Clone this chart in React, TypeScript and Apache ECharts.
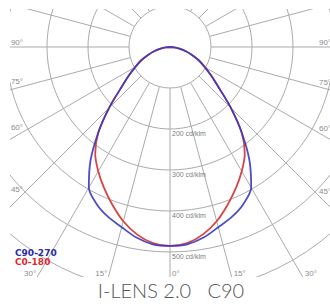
import React, { useEffect, useRef } from "react";
import * as echarts from "echarts";

// Photometric data (cd/klm) every 5° from 0° (nadir) to 90°
const angleSteps = [0, 5, 10, 15, 20, 25, 30, 35, 40, 45, 50, 55, 60, 65, 70, 75, 80, 85, 90];
const c90_270 = [485, 483, 472, 455, 441, 423, 396, 338, 272, 210, 157, 124, 98, 78, 57, 40, 23, 10, 0];
const c0_180 = [485, 480, 464, 440, 410, 380, 350, 318, 272, 210, 157, 124, 98, 78, 57, 40, 23, 10, 0];
const ringLabels = [200, 300, 400, 500];
const sideLabelAngles = [90, 75, 60, 45];
const bottomLabelAngles = [30, 15, 0];
const rayAngles = [-165, -150, -135, -120, -105, -90, -75, -60, -45, -30, -15, 0, 15, 30, 45, 60, 75, 90, 105, 120, 135, 150, 165, 180];
const legendNames = ["C90-270", "C0-180"];
const titleText = "I-LENS 2.0   C90";

// layout
const W = 330;
const H = 304;
const CX = 170;
const CY = 47;
const PX = 0.41; // px per cd/klm
const RMAX = 800;
const FRAME = { left: 10, top: 9, right: 330, bottom: 277 };

const BLUE = "#3a3ac0";
const RED = "#d84444";
const GRID = "#ababab";

function curve(values: number[]) {
  const pts: number[][] = [];
  for (let i = angleSteps.length - 1; i >= 0; i--) pts.push([values[i], -angleSteps[i]]);
  for (let i = 1; i < angleSteps.length; i++) pts.push([values[i], angleSteps[i]]);
  return pts;
}

export default function App() {
  const ref = useRef<HTMLDivElement>(null);
  useEffect(() => {
    document.body.style.margin = "0";
    const chart = echarts.init(ref.current!, null, { renderer: "svg" });
    const rad = (d: number) => (d * Math.PI) / 180;
    const labelStyle = { fill: "#8c8c8c", fontSize: 8, fontFamily: "Liberation Sans, Arial, sans-serif" };
    const graphics: any[] = [
      { type: "rect", z: 50, shape: { x: 0, y: 0, width: W, height: FRAME.top }, style: { fill: "#fff" } },
      { type: "rect", z: 50, shape: { x: 0, y: 0, width: FRAME.left, height: H }, style: { fill: "#fff" } },
      { type: "rect", z: 50, shape: { x: 0, y: FRAME.bottom, width: W, height: H - FRAME.bottom }, style: { fill: "#fff" } },
    ];
    sideLabelAngles.forEach((a) => {
      const cot = Math.cos(rad(a)) / Math.sin(rad(a));
      const xl = FRAME.left + 13;
      graphics.push({
        type: "text", z: 60, x: xl, y: CY + (CX - xl) * cot - 0.5,
        style: { ...labelStyle, text: a + "°", align: "right", verticalAlign: "bottom" },
      });
      const xr = FRAME.right - 11;
      graphics.push({
        type: "text", z: 60, x: xr, y: CY + (xr - CX) * cot - 0.5,
        style: { ...labelStyle, text: a + "°", align: "left", verticalAlign: "bottom" },
      });
    });
    bottomLabelAngles.forEach((a) => {
      const dx = (FRAME.bottom - CY) * Math.tan(rad(a));
      if (a === 0) {
        graphics.push({ type: "text", z: 60, x: CX + 2, y: FRAME.bottom - 8, style: { ...labelStyle, text: "0°", align: "left", verticalAlign: "top" } });
        return;
      }
      graphics.push({ type: "text", z: 60, x: CX - dx - 1, y: FRAME.bottom - 8, style: { ...labelStyle, text: a + "°", align: "right", verticalAlign: "top" } });
      graphics.push({ type: "text", z: 60, x: CX + dx + 2, y: FRAME.bottom - 8, style: { ...labelStyle, text: a + "°", align: "left", verticalAlign: "top" } });
    });
    const legendFont = { fontSize: 9, fontWeight: "bold", fontFamily: "'DejaVu Sans', sans-serif", verticalAlign: "middle" };
    graphics.push({
      type: "text", z: 60, x: 15, y: 253,
      style: { ...legendFont, text: legendNames[0], fill: "#2a2aa8" },
    });
    graphics.push({
      type: "text", z: 60, x: 15, y: 262,
      style: { ...legendFont, text: legendNames[1], fill: "#dd2a2a" },
    });
    graphics.push({
      type: "text", z: 60, x: 171, y: 290,
      style: { text: titleText, fill: "#555", fontSize: 20, fontWeight: 300, fontFamily: "Lato, 'Open Sans', sans-serif", align: "center", verticalAlign: "middle" },
    });

    chart.setOption({
      animation: false,
      polar: { center: [CX, CY], radius: RMAX * PX },
      angleAxis: {
        type: "value", min: -180, max: 180, startAngle: 90, clockwise: true,
        axisLine: { show: false }, axisTick: { show: false }, axisLabel: { show: false }, splitLine: { show: false },
      },
      radiusAxis: {
        type: "value", min: 0, max: RMAX, interval: 100,
        axisLine: { show: false }, axisTick: { show: false }, axisLabel: { show: false },
        splitLine: { show: true, lineStyle: { color: GRID, width: 1 } },
      },
      series: [
        {
          type: "custom", coordinateSystem: "polar", z: 1, silent: true,
          data: rayAngles.map((a) => [RMAX, a]),
          renderItem: (params: any, api: any) => {
            const a = api.value(1);
            const p1 = api.coord([100, a]);
            const p2 = api.coord([RMAX, a]);
            return { type: "line", shape: { x1: p1[0], y1: p1[1], x2: p2[0], y2: p2[1] }, style: { stroke: GRID, lineWidth: 1 } };
          },
        },
        {
          type: "scatter", coordinateSystem: "polar", symbolSize: 0, z: 3,
          data: ringLabels.map((v) => [v, 0]),
          label: {
            show: true, position: [2, 1], align: "left", verticalAlign: "top",
            formatter: (p: any) => p.value[0] + " cd/klm",
            color: "#555", fontSize: 7, fontFamily: "Liberation Sans, Arial, sans-serif",
          },
        },
        {
          name: legendNames[1], type: "line", coordinateSystem: "polar", smooth: 0.3, symbol: "none", z: 4,
          data: curve(c0_180), lineStyle: { color: RED, width: 1.8 },
        },
        {
          name: legendNames[0], type: "line", coordinateSystem: "polar", smooth: 0.3, symbol: "none", z: 5,
          data: curve(c90_270), lineStyle: { color: BLUE, width: 1.8, opacity: 0.9 },
        },
      ],
      graphic: graphics,
    });
    return () => chart.dispose();
  }, []);
  return <div ref={ref} style={{ width: W, height: H }} />;
}
